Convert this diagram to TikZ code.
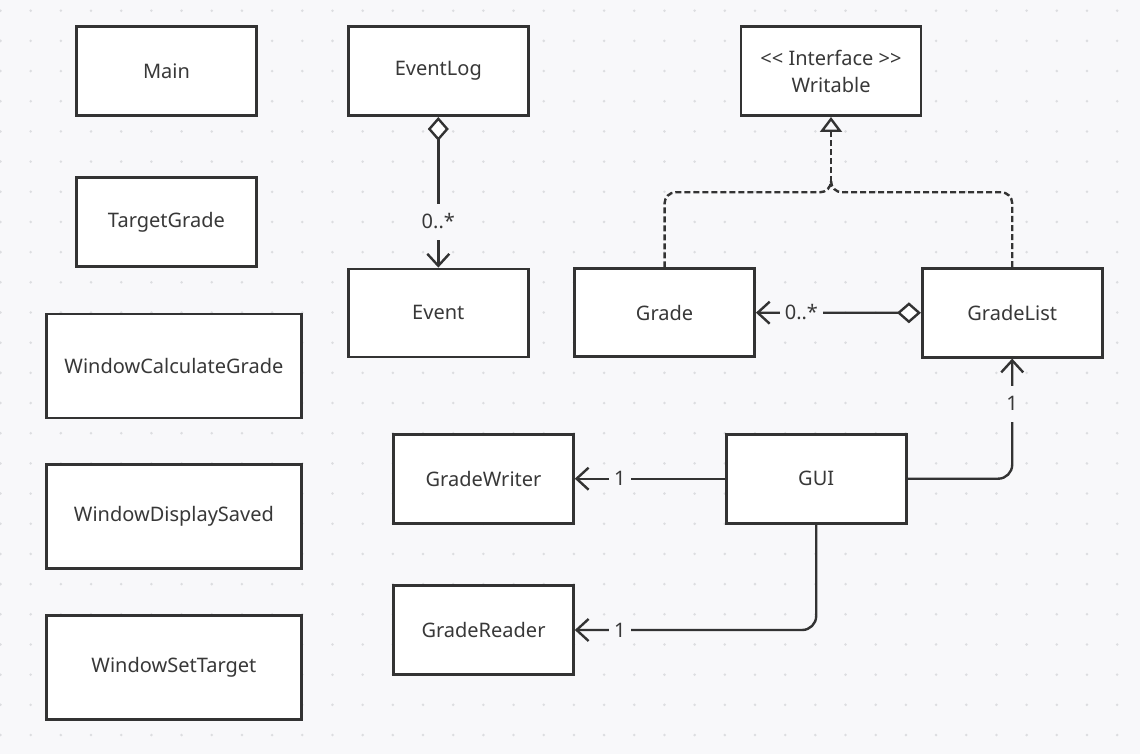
\documentclass[tikz,border=0pt]{standalone}
\usepackage{fontspec}
\setmainfont{Noto Sans}
\usetikzlibrary{arrows.meta}
\definecolor{bg}{HTML}{F8F8FA}
\definecolor{dotc}{HTML}{DCDDE0}
\definecolor{ink}{HTML}{333333}
\definecolor{txt}{HTML}{383838}
\begin{document}
\begin{tikzpicture}[x=1pt,y=-1pt,
  box/.style={draw=ink, line width=2.6pt, fill=white, text=txt,
    minimum width=180pt, minimum height=89pt, inner sep=0pt,
    font=\fontsize{20}{27}\selectfont, align=center},
  widebox/.style={box, minimum width=255pt, minimum height=104pt},
  conn/.style={draw=ink, line width=2.4pt, line join=round},
  barb/.style={-{Straight Barb[length=12pt,width=22pt]}},
  agg/.style={{Diamond[fill=white,length=24pt,width=21pt]}-{Straight Barb[length=12pt,width=22pt]}},
  real/.style={conn, dash pattern=on 6pt off 3pt},
  lbl/.style={fill=bg, text=txt, font=\fontsize{20}{24}\selectfont,
    inner xsep=5pt, inner ysep=0pt, text height=14.3pt, text depth=0pt,
    minimum height=36pt}
]
\fill[bg] (0,0) rectangle (1140,754);
\useasboundingbox (0,0) rectangle (1140,754);
\foreach \i in {0,...,37}
  \foreach \j in {0,...,24}
    \fill[dotc] (0.5+30.18*\i, 10.7+30.18*\j) circle (1.4);

% left column
\node[box] (main) at (166.5,71.2) {Main};
\node[box] (target) at (166.4,222) {TargetGrade};
\node[widebox] (wcg) at (173.9,365.8) {WindowCalculateGrade};
\node[widebox] (wds) at (173.9,516.7) {WindowDisplaySaved};
\node[widebox] (wst) at (173.9,667.7) {WindowSetTarget};

% other classes
\node[box] (eventlog) at (438.3,71.2) {EventLog};
\node[box, minimum height=88pt] (event) at (438.3,312.9) {Event};
\node[box] (writable) at (831,71.2) {<\kern0pt< Interface >\kern0pt>\\Writable};
\node[box, minimum height=88pt] (grade) at (664.6,312.7) {Grade};
\node[box] (gradelist) at (1012.2,312.8) {GradeList};
\node[box] (gradewriter) at (483.5,478.7) {GradeWriter};
\node[box] (gui) at (816.2,478.7) {GUI};
\node[box] (gradereader) at (483.5,630) {GradeReader};

% realization (dashed)
\coordinate (J) at (831,192.3);
\coordinate (Jup) at (831,182.3);
\draw[real, rounded corners=11pt] (grade.north) |- (J) -- (Jup);
\draw[real, rounded corners=11pt] (gradelist.north) |- (J) -- (Jup);
\draw[real, -{Triangle[fill=bg,length=15pt,width=22pt]}] (Jup) -- (writable.south);

% aggregations
\draw[conn, agg] (eventlog.south) -- (event.north);
\node[lbl] at ([yshift=46pt]event.north) {0..*};
\draw[conn, agg] (gradelist.west) -- (grade.east);
\node[lbl] at ([xshift=45.5pt]grade.east) {0..*};

% associations from GUI
\draw[conn, barb] (gui.west) -- (gradewriter.east);
\node[lbl] at ([xshift=45pt]gradewriter.east) {1};
\draw[conn, barb, rounded corners=14pt] (gui.south) |- (gradereader.east);
\node[lbl] at ([xshift=45pt]gradereader.east) {1};
\draw[conn, barb, rounded corners=14pt] (gui.east) -| (gradelist.south);
\node[lbl] at ([yshift=-45pt]gradelist.south) {1};
\end{tikzpicture}
\end{document}
